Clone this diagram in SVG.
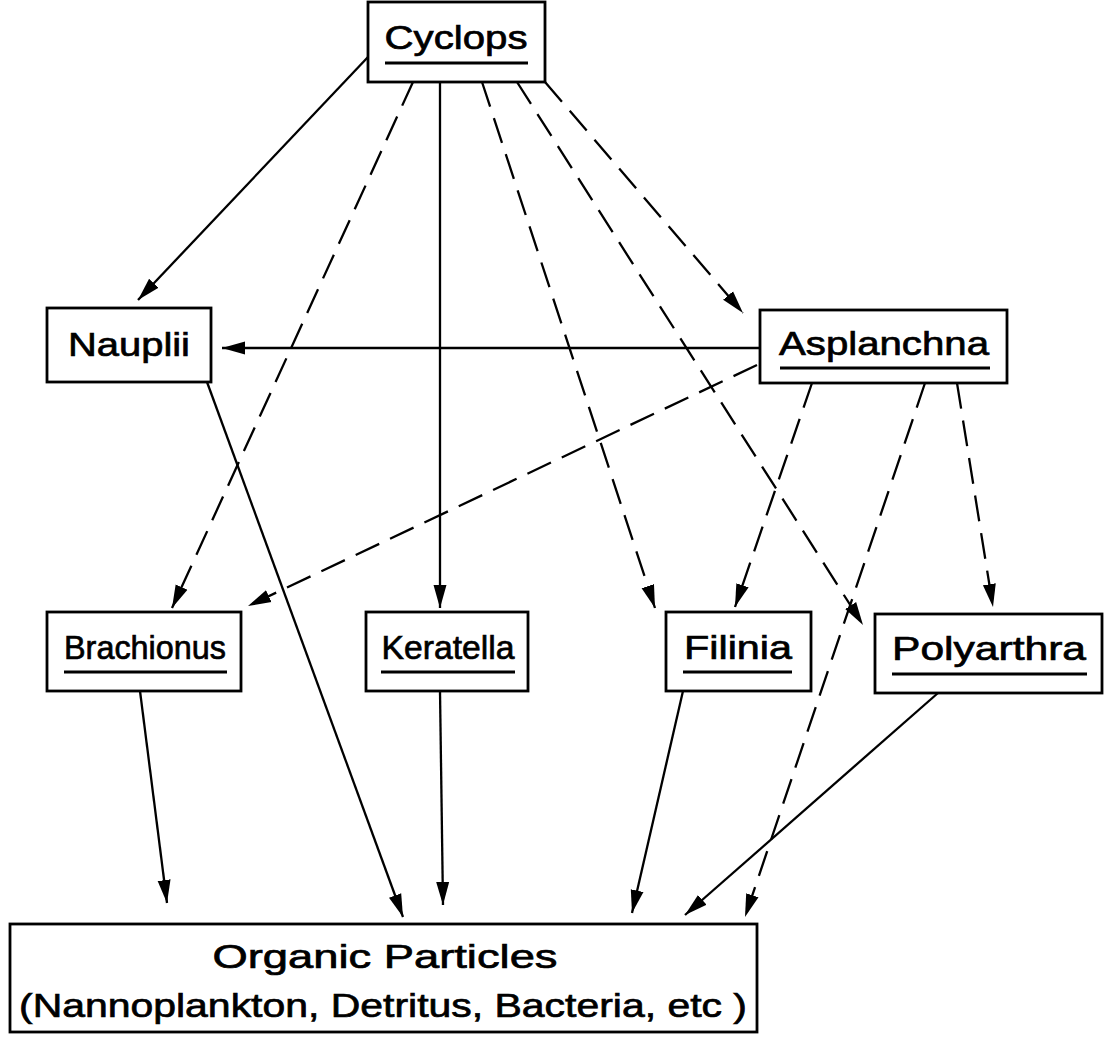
<svg xmlns="http://www.w3.org/2000/svg" width="1110" height="1040" viewBox="0 0 1110 1040">
<defs>
<marker id="ah" markerUnits="userSpaceOnUse" markerWidth="24" markerHeight="16" refX="23" refY="8" orient="auto">
<path d="M0,1.5 L23,8 L0,14.5 z" fill="#000"/>
</marker>
<style>
.box{fill:#fff;stroke:#000;stroke-width:2.8}
.t{font-family:"Liberation Sans",Arial,sans-serif;font-size:34px;fill:#000;stroke:#000;stroke-width:0.7;text-anchor:middle}
.ul{stroke:#000;stroke-width:3.2}
.s{stroke:#000;stroke-width:2.3;fill:none;marker-end:url(#ah)}
.d{stroke:#000;stroke-width:2.3;fill:none;stroke-dasharray:26 12;marker-end:url(#ah)}
</style>
</defs>
<rect width="1110" height="1040" fill="#fff"/>
<g id="connectors">
<line class="s" x1="368" y1="57" x2="138" y2="300"/>
<line class="s" x1="440" y1="82" x2="440" y2="608"/>
<line class="s" x1="760" y1="348" x2="222" y2="348"/>
<line class="s" x1="207" y1="382" x2="403" y2="917"/>
<line class="s" x1="140" y1="691" x2="167" y2="903"/>
<line class="s" x1="440" y1="691" x2="443" y2="905"/>
<line class="s" x1="683" y1="691" x2="632" y2="913"/>
<line class="s" x1="938" y1="693" x2="685" y2="915"/>
<line class="d" x1="413" y1="82" x2="172" y2="608"/>
<line class="d" x1="482" y1="82" x2="655" y2="608"/>
<line class="d" x1="517" y1="82" x2="863" y2="625"/>
<line class="d" x1="545" y1="82" x2="743" y2="313"/>
<line class="d" x1="757" y1="365" x2="248" y2="606"/>
<line class="d" x1="812" y1="383" x2="735" y2="607"/>
<line class="d" x1="925" y1="383" x2="745" y2="917"/>
<line class="d" x1="957" y1="383" x2="993" y2="607"/>
</g>
<g id="cyclops">
<rect class="box" x="368" y="2" width="177" height="80"/>
<text class="t" x="456" y="49" textLength="143" lengthAdjust="spacingAndGlyphs">Cyclops</text>
<line class="ul" x1="385" y1="63" x2="528" y2="63"/>
</g>
<g id="nauplii">
<rect class="box" x="47" y="308" width="164" height="74"/>
<text class="t" x="129" y="356" textLength="122" lengthAdjust="spacingAndGlyphs">Nauplii</text>
</g>
<g id="asplanchna">
<rect class="box" x="760" y="310" width="247" height="73"/>
<text class="t" x="884" y="355" textLength="210" lengthAdjust="spacingAndGlyphs">Asplanchna</text>
<line class="ul" x1="780" y1="368" x2="990" y2="368"/>
</g>
<g id="brachionus">
<rect class="box" x="47" y="612" width="194" height="79"/>
<text class="t" x="145" y="659" textLength="162" lengthAdjust="spacingAndGlyphs">Brachionus</text>
<line class="ul" x1="64" y1="672" x2="227" y2="672"/>
</g>
<g id="keratella">
<rect class="box" x="366" y="612" width="162" height="79"/>
<text class="t" x="448" y="659" textLength="133" lengthAdjust="spacingAndGlyphs">Keratella</text>
<line class="ul" x1="381" y1="672" x2="515" y2="672"/>
</g>
<g id="filinia">
<rect class="box" x="666" y="612" width="145" height="79"/>
<text class="t" x="738" y="659" textLength="108" lengthAdjust="spacingAndGlyphs">Filinia</text>
<line class="ul" x1="683" y1="672" x2="792" y2="672"/>
</g>
<g id="polyarthra">
<rect class="box" x="875" y="614" width="227" height="79"/>
<text class="t" x="989" y="660" textLength="194" lengthAdjust="spacingAndGlyphs">Polyarthra</text>
<line class="ul" x1="892" y1="674" x2="1087" y2="674"/>
</g>
<g id="organic">
<rect class="box" x="10" y="924" width="747" height="108"/>
<text class="t" x="385" y="968" textLength="345" lengthAdjust="spacingAndGlyphs">Organic  Particles</text>
<text class="t" x="383" y="1017" textLength="728" lengthAdjust="spacingAndGlyphs">(Nannoplankton, Detritus, Bacteria, etc )</text>
</g>
</svg>
